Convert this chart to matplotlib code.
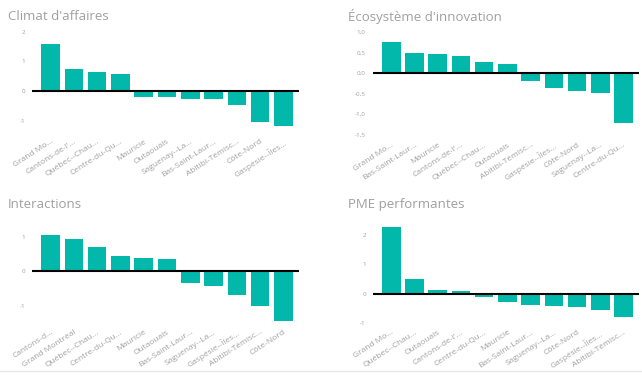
import matplotlib.pyplot as plt
from matplotlib.lines import Line2D

plt.rcParams['font.family'] = ['Open Sans', 'DejaVu Sans']

# --- data ---
climat_labels = ["Grand Mo...", "Cantons-de-l'...", "Québec--Chau...", "Centre-du-Qu...",
                 "Mauricie", "Outaouais", "Saguenay--La...", "Bas-Saint-Laur...",
                 "Abitibi-Témisc...", "Côte-Nord", "Gaspésie--Îles..."]
climat_values = [1.59, 0.73, 0.64, 0.57, -0.20, -0.20, -0.26, -0.26, -0.47, -1.05, -1.17]

eco_labels = ["Grand Mo...", "Bas-Saint-Laur...", "Mauricie", "Cantons-de-l'...",
              "Québec--Chau...", "Outaouais", "Abitibi-Témisc...", "Gaspésie--Îles...",
              "Côte-Nord", "Saguenay--La...", "Centre-du-Qu..."]
eco_values = [0.76, 0.50, 0.46, 0.42, 0.28, 0.21, -0.20, -0.37, -0.44, -0.49, -1.23]

inter_labels = ["Cantons-d...", "Grand Montréal", "Québec--Chau...", "Centre-du-Qu...",
                "Mauricie", "Outaouais", "Bas-Saint-Laur...", "Saguenay--La...",
                "Gaspésie--Îles...", "Abitibi-Témisc...", "Côte-Nord"]
inter_values = [1.04, 0.95, 0.70, 0.45, 0.39, 0.36, -0.34, -0.44, -0.70, -1.00, -1.43]

pme_labels = ["Grand Mo...", "Québec--Chau...", "Outaouais", "Cantons-de-l'...",
              "Centre-du-Qu...", "Mauricie", "Bas-Saint-Laur...", "Saguenay--La...",
              "Côte-Nord", "Gaspésie--Îles...", "Abitibi-Témisc..."]
pme_values = [2.26, 0.51, 0.12, 0.10, -0.11, -0.29, -0.37, -0.41, -0.46, -0.57, -0.78]

W, H = 642, 377
fig = plt.figure(figsize=(W / 100, H / 100), dpi=100)

TEAL = '#01B8AA'
GRAY = '#a0a0a0'


def px_axes(x0, x1, ytop, ybot):
    return fig.add_axes([x0 / W, 1 - ybot / H, (x1 - x0) / W, (ybot - ytop) / H])


panels = [
    # title, labels, values, ticks, ticklabels, ylim, (x0, x1, ytop, ybot), title pos, label pad
    ("Climat d'affaires", climat_labels, climat_values, [-1, 0, 1, 2], ['-1', '0', '1', '2'],
     (-1.3, 2.05), (32, 299, 30.1, 129.6), (8, 17), 6),
    ("Écosystème d'innovation", eco_labels, eco_values, [-1.5, -1, -0.5, 0, 0.5, 1],
     ['-1,5', '-1,0', '-0,5', '0,0', '0,5', '1,0'],
     (-1.5, 1.05), (372.7, 639, 30, 134.5), (348, 17), 5),
    ("Interactions", inter_labels, inter_values, [-1, 0, 1], ['-1', '0', '1'],
     (-1.5, 1.25), (32, 299, 228.2, 323), (8, 204), 4),
    ("PME performantes", pme_labels, pme_values, [-1, 0, 1, 2], ['-1', '0', '1', '2'],
     (-1.05, 2.4), (372.7, 639, 223.1, 324.6), (348, 205), 3),
]

for title, labels, values, ticks, tlabels, ylim, box, tpos, pad in panels:
    ax = px_axes(*box)
    x = list(range(len(values)))
    ax.bar(x, values, width=0.8, color=TEAL, zorder=2)
    ax.axhline(0, color='black', lw=1.5, zorder=3)
    ax.set_xlim(-0.8, 10.67)
    ax.set_ylim(*ylim)
    ax.set_yticks(ticks)
    ax.set_yticklabels(tlabels, fontsize=4.5, color=GRAY)
    ax.set_xticks(x)
    ax.set_xticklabels(labels, rotation=33, ha='right', rotation_mode='anchor',
                       fontsize=6, color=GRAY)
    ax.tick_params(axis='both', length=0)
    ax.tick_params(axis='x', pad=pad)
    ax.tick_params(axis='y', pad=5)
    for s in ax.spines.values():
        s.set_visible(False)
    fig.text(tpos[0] / W, 1 - tpos[1] / H, title, fontsize=9.5, color=GRAY,
             ha='left', va='center')

fig.add_artist(Line2D([0, 1], [1 - 371 / H, 1 - 371 / H], color='#e6e6e6', lw=1))

fig.savefig('out.png', dpi=100)
